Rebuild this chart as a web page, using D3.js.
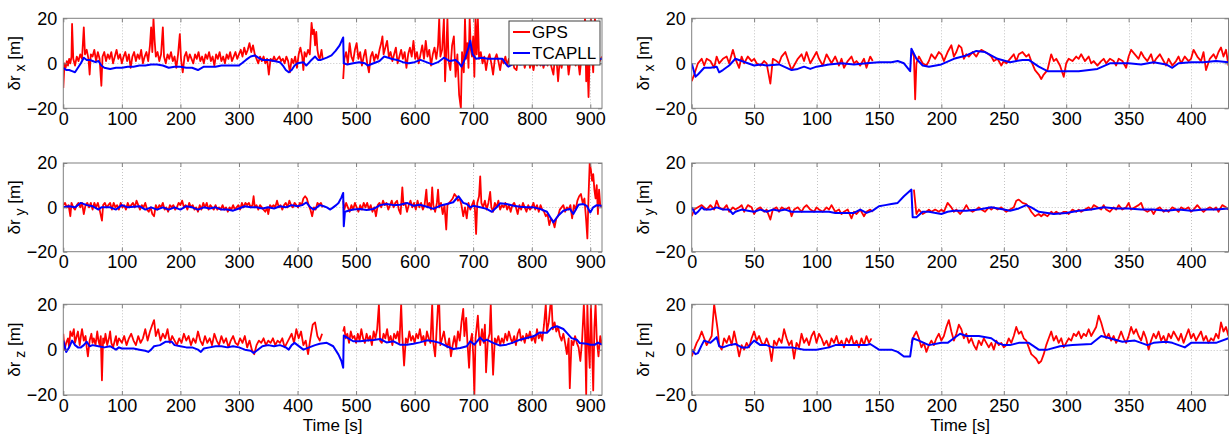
<!DOCTYPE html>
<html><head><meta charset="utf-8">
<script src="https://cdn.jsdelivr.net/npm/d3@7"></script>
<style>
body{margin:0;background:#fff}
svg{display:block}
text{font-family:"Liberation Sans",Arial,Helvetica,sans-serif}
</style>
</head><body>
<svg id="chart" width="1229" height="434"></svg>
<script>
// ---------- data ----------
const xTicksLeft = [0,100,200,300,400,500,600,700,800,900];
const xTicksRight = [0,50,100,150,200,250,300,350,400];
const yTicks = [-20,0,20];
const axisLabels = ["x","y","z"];
const seriesNames = ["GPS","TCAPLL"];

const gpsX_L = [[0,-11],[2,0],[4,-2],[6,1],[8,-1],[10,2],[12,0],[14,3],[15,17.5],[17,2],[20,-1],[23,3],[26,1],[29,4],[32,2],[35,16],[37,4],[40,6],[43,2],[45,-5],[47,4],[50,3],[53,6],[56,1],[59,5],[62,2],[65,-10],[67,3],[70,5],[73,1],[76,4],[79,2],[82,5],[85,0],[88,3],[91,6],[94,2],[97,4],[100,0],[103,3],[106,5],[109,1],[112,4],[115,-2],[118,3],[121,5],[124,1],[127,4],[130,2],[133,6],[136,0],[139,3],[142,5],[145,1],[148,8],[150,16],[152,5],[154,20],[156,10],[158,3],[161,5],[164,1],[167,4],[170,16],[172,3],[175,0],[178,4],[181,2],[184,5],[187,1],[190,3],[193,-2],[196,4],[199,13],[201,2],[204,-4],[207,3],[210,5],[213,1],[216,4],[219,2],[222,0],[225,4],[228,2],[231,5],[234,1],[237,3],[240,0],[243,4],[246,2],[249,5],[252,1],[255,3],[258,-1],[261,4],[264,2],[267,5],[270,1],[273,3],[276,0],[279,4],[282,2],[285,5],[288,1],[291,3],[294,5],[297,2],[300,4],[303,6],[306,3],[309,7],[312,4],[315,6],[318,9],[321,5],[324,8],[327,4],[330,2],[333,0],[336,3],[339,1],[342,3],[345,0],[348,2],[351,-5],[354,2],[357,1],[360,3],[363,1],[366,2],[369,3],[372,1],[375,2],[378,0],[381,3],[384,1],[387,-4],[390,2],[393,0],[396,3],[399,-2],[402,4],[405,7],[408,3],[410,-3],[412,5],[415,3],[418,6],[421,4],[424,18],[426,13],[428,15],[430,8],[432,14],[434,6],[436,3],[438,2],[441,6],[443,2],[444,null],[478,-7],[480,2],[483,5],[486,0],[489,9],[492,3],[495,1],[498,6],[501,9],[504,2],[507,5],[510,-1],[513,3],[516,6],[519,0],[522,-4],[525,3],[528,5],[531,1],[534,4],[537,2],[540,6],[543,9],[545,12],[547,4],[550,7],[553,10],[556,3],[559,5],[562,1],[565,4],[568,7],[571,0],[574,3],[577,6],[580,2],[583,5],[586,-2],[589,4],[592,7],[595,3],[598,10],[601,2],[604,5],[607,0],[610,4],[613,8],[616,2],[619,10],[622,3],[625,6],[628,-1],[631,4],[634,7],[637,2],[640,8],[642,20],[644,3],[647,6],[650,20],[652,-8],[654,5],[656,20],[658,1],[661,-3],[664,8],[667,12],[670,-6],[673,4],[676,-14],[679,-20],[681,5],[684,-4],[686,20],[688,2],[690,9],[692,-2],[694,20],[696,6],[698,3],[700,12],[702,-6],[704,20],[706,4],[708,20],[710,2],[713,5],[716,0],[719,3],[722,-3],[725,2],[728,4],[731,0],[734,-5],[737,2],[740,4],[743,1],[746,-3],[749,2],[752,0],[755,3],[758,-1],[761,2],[764,0],[767,3],[770,-2],[774,-3],[776,1],[779,2],[782,0],[785,3],[788,-2],[791,1],[794,4],[797,-2],[800,1],[803,-3],[806,2],[809,-1],[812,3],[815,-1],[818,1],[820,-2],[824,2],[827,-1],[830,4],[833,-1],[837,-5],[839,1],[842,3],[845,-8],[848,2],[851,-2],[854,3],[857,0],[860,4],[863,-5],[866,1],[869,3],[872,6],[875,-1],[878,4],[882,-5],[885,3],[888,6],[891,20],[893,-8],[895,2],[897,-15],[899,4],[901,20],[903,3],[905,-4],[908,20],[910,2],[913,4],[916,1],[920,3]];
const tcapllX_L = [[0,-2],[5,-3],[10,-3],[15,-3.5],[20,-4],[25,-2],[30,0],[35,2.5],[40,1.5],[45,1.5],[50,1],[55,0.5],[60,1],[65,-1],[70,-2],[80,-2.5],[90,-2],[100,-2],[110,-1.5],[120,-1.5],[130,-1],[140,-1],[150,-0.5],[160,-0.5],[170,-1],[180,-2],[190,-1.5],[200,-1.5],[210,-2],[220,-2],[230,-3],[240,-1.5],[250,-1.5],[260,-1.5],[270,-1],[280,-1],[290,-1],[300,-1],[305,0],[312,1.5],[320,3],[327,3.5],[333,2.5],[340,1.5],[350,1.5],[360,1],[370,0.5],[375,-1],[380,-3],[385,-4],[390,-3],[395,-1],[400,0],[410,0.5],[415,-1],[422,1],[430,3],[435,1.5],[440,1.5],[450,2.5],[458,3.5],[465,5.5],[472,8],[478,11.5],[479,0],[485,-0.5],[495,0],[505,0.5],[515,0],[520,-1],[530,0],[540,1],[548,3],[555,2.5],[560,2],[570,1.5],[580,0.5],[590,0],[600,0.5],[610,1.5],[620,0.5],[630,-0.5],[640,0.5],[650,2.5],[660,1],[670,1.5],[676,0],[680,-1.5],[686,2],[692,7],[695,10],[699,4],[705,2],[715,2.5],[725,2],[740,2],[750,2],[755,0],[760,-1.5],[770,0],[780,-0.5],[800,0],[820,-0.5],[840,0],[860,0.5],[880,0],[900,1],[920,2]];

const gpsY_L = [[0,1],[3,2],[6,0],[9,1],[12,-4],[14,2],[17,0],[20,-1],[23,1],[26,2],[29,0],[32,2],[35,-3],[38,1],[41,2],[44,0],[47,2],[50,-1],[53,2],[56,0],[59,2],[62,-1],[66,-6],[68,1],[71,2],[74,0],[77,1],[80,2],[83,-1],[86,2],[89,0],[92,1],[95,-1],[98,2],[101,0],[104,1],[107,-1],[110,2],[113,0],[116,1],[119,2],[122,0],[125,3],[128,1],[131,-1],[134,1],[137,0],[140,2],[143,-1],[146,-2],[149,0],[152,-3],[155,-4],[158,1],[161,-1],[164,1],[167,0],[170,2],[173,-1],[176,0],[179,-2],[182,1],[185,0],[188,1],[191,-1],[194,0],[197,2],[200,1],[203,3],[206,0],[209,1],[212,-1],[215,2],[218,0],[221,1],[224,-1],[227,0],[230,-2],[233,1],[236,-1],[239,2],[242,0],[245,2],[248,-1],[251,1],[254,0],[257,-1],[260,1],[263,-1],[266,0],[269,-1],[272,1],[275,-1],[278,0],[281,-2],[284,0],[287,-1],[290,1],[293,-1],[296,0],[299,1],[302,-1],[305,2],[308,0],[311,2],[314,1],[317,2],[320,0],[323,1],[325,5],[327,0],[330,1],[333,-1],[336,1],[339,0],[342,-1],[345,-2],[348,0],[350,-3],[353,1],[356,0],[359,1],[362,0],[365,3],[368,0],[371,1],[374,-1],[377,1],[380,2],[383,0],[386,3],[389,1],[392,0],[395,2],[398,1],[401,0],[404,2],[407,1],[410,4],[413,5],[416,4],[419,1],[422,-1],[425,-4],[428,0],[431,-1],[434,2],[437,1],[440,2],[443,0],[444,null],[478,3],[480,-1],[483,2],[486,0],[489,-2],[492,1],[495,-1],[498,2],[501,0],[504,-2],[507,1],[510,-1],[513,2],[516,0],[519,2],[522,-1],[525,1],[528,-2],[531,0],[534,-4],[537,1],[540,2],[543,0],[546,3],[549,1],[552,2],[555,-1],[558,1],[561,3],[564,0],[567,2],[570,3],[573,-1],[576,-3],[579,9],[581,1],[584,2],[587,-2],[590,1],[593,3],[596,0],[599,2],[602,-1],[605,3],[608,0],[611,2],[614,-1],[617,1],[620,8],[622,0],[625,2],[628,-1],[630,9],[632,1],[635,-2],[638,2],[640,8],[642,0],[645,2],[648,-3],[651,1],[654,-10],[656,1],[659,2],[662,3],[665,4],[668,6],[671,5],[674,3],[677,4],[680,1],[683,-4],[686,0],[689,-5],[692,2],[695,-1],[698,1],[701,3],[703,-1],[705,-12],[707,2],[710,5],[712,14],[714,2],[717,0],[720,3],[723,-1],[726,2],[729,7],[731,0],[734,-2],[737,2],[740,0],[743,3],[746,-1],[749,1],[752,0],[755,2],[758,-1],[761,1],[764,-2],[767,1],[770,2],[773,0],[776,-3],[779,1],[782,-1],[785,2],[788,0],[791,-2],[794,1],[797,-1],[800,0],[803,2],[806,-1],[809,1],[812,-2],[815,1],[818,-1],[821,-2],[824,-4],[827,-3],[830,-8],[833,-5],[836,-6],[839,-9],[842,-5],[845,-4],[848,-1],[851,0],[854,1],[857,-2],[860,0],[863,-1],[866,1],[869,-5],[872,1],[875,-1],[878,3],[881,5],[884,6],[887,2],[890,4],[893,-6],[895,-14],[897,5],[899,20],[901,17],[903,12],[905,15],[907,8],[909,4],[911,10],[913,-3],[915,8],[917,1],[920,0]];
const tcapllY_L = [[0,0],[10,0.5],[20,0],[30,2],[40,1],[50,0.5],[60,-1],[65,0],[80,0],[90,-1],[100,1],[110,0],[130,0.5],[140,-1],[150,0],[160,-1],[170,0],[180,-1],[190,0],[200,-1],[210,0.5],[220,0],[230,-1],[240,0],[250,-0.5],[260,0],[270,-1],[280,-1],[290,-1.5],[300,-0.5],[310,0.5],[320,0],[330,0],[340,-0.5],[350,0],[360,-0.5],[370,0.5],[380,0],[390,1],[400,0.5],[408,1],[415,2.2],[422,0],[428,-1],[433,0],[438,1],[445,0.5],[450,0],[456,-1],[461,0],[466,1],[470,2],[475,4.5],[478,6.5],[479,-8.5],[481,-2],[487,-1.5],[495,-1],[507,-0.7],[518,-1.2],[530,-0.7],[541,1],[552,1.5],[564,1],[575,1.2],[587,2],[598,0.7],[609,1.2],[621,0.3],[632,-0.7],[643,0.7],[655,1.5],[666,2.3],[675,5],[683,2],[689,1.5],[695,0],[700,0.7],[712,0],[723,-0.7],[732,-2],[740,0],[746,1.8],[757,1.5],[769,0.7],[780,0.3],[791,0],[803,0],[814,-0.7],[826,-2],[837,-6.8],[845,-3.8],[854,-1.5],[865,-0.7],[871,-3],[880,1.2],[888,1.5],[894,0.7],[900,-2.3],[905,0],[911,1],[920,0.7]];

const gpsZ_L = [[0,7],[2,0],[5,3],[8,5],[10,1],[12,8],[15,6],[18,9],[20,3],[22,5],[25,8],[28,2],[30,6],[32,9],[35,4],[38,6],[40,1],[42,-3],[45,4],[48,7],[50,3],[52,5],[55,2],[58,8],[60,4],[62,2],[64,6],[66,-13.5],[68,5],[70,3],[72,7],[75,2],[78,5],[80,8],[82,3],[85,1],[88,4],[90,6],[92,2],[95,5],[100,3],[104,6],[108,2],[112,5],[116,7],[120,4],[124,2],[128,6],[132,3],[136,5],[140,9],[144,4],[148,8],[152,11],[155,13],[158,6],[162,9],[166,4],[170,7],[174,5],[178,9],[182,3],[186,6],[190,4],[194,2],[198,5],[202,3],[206,7],[210,4],[214,6],[218,2],[222,5],[226,3],[230,8],[234,4],[238,2],[242,6],[246,3],[250,5],[254,2],[258,7],[262,4],[266,2],[270,6],[274,3],[278,5],[282,1],[286,4],[290,6],[294,3],[298,2],[302,5],[306,3],[310,6],[314,1],[318,4],[322,0],[326,-2],[330,2],[334,4],[338,3],[342,5],[346,2],[350,4],[354,3],[358,5],[362,2],[366,4],[370,3],[374,5],[378,1],[382,3],[386,5],[390,7],[394,3],[398,9],[402,5],[406,8],[410,2],[414,4],[418,-2],[422,5],[426,11],[430,12],[434,6],[438,4],[442,7],[443,null],[478,8],[480,10],[482,5],[485,7],[488,3],[491,8],[494,5],[497,6],[500,3],[503,7],[506,4],[509,9],[512,5],[515,3],[518,7],[521,4],[524,6],[527,2],[530,8],[533,5],[536,9],[539,20],[541,4],[544,3],[547,7],[550,5],[553,9],[556,4],[559,6],[562,2],[565,7],[568,5],[571,8],[574,3],[577,20],[579,6],[582,-7],[585,5],[588,3],[591,8],[594,4],[597,6],[600,3],[603,7],[606,5],[609,9],[612,4],[615,6],[618,2],[621,8],[624,5],[627,3],[630,20],[632,3],[635,-3],[637,6],[640,20],[642,20],[644,2],[647,5],[650,8],[653,3],[656,1],[659,5],[662,-3],[665,2],[668,6],[671,1],[674,8],[677,4],[680,12],[683,18],[685,6],[688,14],[690,4],[693,-8],[695,3],[698,7],[700,-2],[702,-20],[704,5],[706,10],[708,15],[710,6],[712,2],[715,9],[718,3],[720,11],[722,-10],[725,4],[728,7],[730,20],[732,3],[734,-11],[737,5],[740,3],[743,6],[746,2],[749,5],[752,3],[755,7],[758,4],[761,8],[764,5],[767,3],[770,6],[773,2],[776,7],[779,9],[782,4],[785,6],[788,3],[791,7],[794,5],[797,8],[800,4],[803,6],[806,3],[809,9],[812,5],[815,7],[818,4],[821,11],[824,20],[826,8],[829,12],[832,20],[834,20],[836,9],[839,12],[842,8],[845,10],[848,6],[851,4],[854,7],[857,3],[860,-2],[863,5],[865,-17],[868,4],[871,2],[874,6],[877,3],[880,1],[883,-5],[886,4],[889,20],[891,8],[893,-20],[895,20],[897,3],[899,-8],[901,20],[903,2],[905,-18],[907,10],[909,20],[911,5],[914,-3],[917,6],[920,2]];
const tcapllZ_L = [[0,4],[5,-1],[10,1],[15,4],[20,2],[25,1],[30,1],[35,2],[40,3.5],[45,1.5],[50,2],[60,1.5],[70,1],[80,1.5],[90,0],[95,1],[100,0.5],[110,0.5],[120,0.5],[130,0],[140,-0.5],[145,-1],[150,0],[155,1.5],[165,2],[175,3.5],[185,3.5],[190,2],[200,1.5],[210,1],[220,1],[230,0],[235,-1],[240,0.5],[250,1],[260,1.5],[270,1.5],[280,1],[290,1.5],[300,1],[310,0],[320,-0.5],[325,-1.5],[330,-0.5],[340,1.5],[350,2],[360,1.5],[370,2],[380,1],[385,0],[390,2],[395,3],[400,2],[410,0],[420,1],[430,2],[438,2.6],[450,3],[461,1.5],[470,-2.2],[475,-5],[478,-8],[479,6.2],[487,5],[495,3.7],[507,3.7],[518,4],[530,4.3],[541,4.7],[552,3.2],[564,3.7],[575,2.2],[587,2.2],[598,2.6],[609,3.2],[621,4.1],[632,3.7],[643,3],[655,1.5],[666,0.3],[678,0.7],[689,1.5],[695,3.7],[702,2.2],[712,5.3],[718,3.7],[723,4.4],[734,3],[746,1.8],[757,2.2],[769,3.2],[780,4.4],[791,5.1],[803,5.9],[814,7.6],[826,7.4],[834,9.6],[843,10.3],[854,9.1],[860,7.4],[868,5.1],[877,4.4],[882,2.9],[894,2.6],[900,2.2],[908,2.2],[913,3.1],[920,2.2]];

const gpsX_R = [[0,-8],[2,-5],[5,0],[8,2],[10,-1],[12,2],[15,1],[18,-2],[20,3],[22,0],[25,2],[28,3],[30,0],[33,6],[35,2],[38,-2],[40,3],[42,0],[45,3],[48,1],[50,2],[52,0],[55,-1],[58,1],[60,0],[63,-9],[65,2],[68,1],[70,0],[72,3],[75,5],[78,0],[80,-3],[82,-1],[85,2],[88,4],[90,1],[92,5],[95,0],[98,3],[100,5],[102,2],[105,-1],[108,4],[110,2],[112,0],[115,3],[118,-1],[120,2],[122,-2],[125,1],[128,3],[130,0],[132,1],[135,-1],[138,2],[140,-2],[143,3],[145,1],[146,null],[176,6],[178,3],[179,-16],[180,0],[182,3],[185,0],[188,-1],[190,1],[192,4],[195,2],[198,5],[200,4],[202,1],[205,5],[208,8],[210,3],[212,5],[214,8],[216,7],[218,2],[220,4],[222,3],[225,5],[228,3],[230,5],[232,6],[235,5],[238,4],[240,3],[242,1],[245,2],[248,-1],[250,1],[252,0],[255,2],[258,4],[260,1],[262,4],[265,5],[268,3],[270,4],[272,1],[275,-3],[278,-5],[280,-7],[282,-5],[285,-3],[288,4],[290,1],[292,2],[295,-1],[298,-6],[300,0],[302,2],[305,1],[308,3],[310,2],[312,4],[315,1],[318,3],[320,0],[322,1],[325,-1],[328,1],[330,2],[332,0],[335,2],[338,1],[340,-1],[342,2],[345,1],[348,-2],[350,3],[352,6],[355,4],[358,2],[360,5],[362,3],[365,1],[368,4],[370,0],[372,2],[375,4],[378,1],[380,-1],[382,2],[385,-1],[388,1],[390,3],[392,0],[395,3],[398,1],[400,2],[402,6],[405,3],[408,1],[410,5],[412,-3],[415,2],[418,4],[420,2],[422,5],[424,7],[426,3],[428,6],[430,-1]];
const tcapllX_R = [[0,0],[3,-6],[5,-5],[10,-2],[15,-2],[20,-1.5],[22,-4],[25,-3],[30,-1],[35,2],[40,1],[50,-1],[55,-0.5],[60,-1],[70,-0.5],[80,-3],[85,-2.5],[90,-1.5],[95,-2.5],[100,-1.5],[110,-0.5],[120,0],[130,-0.5],[140,0],[150,0.5],[160,0.5],[165,1],[170,0],[175,-3.5],[176,6.5],[180,2],[185,-1],[190,-1.5],[200,-0.5],[210,2],[220,3.5],[228,5.5],[235,5],[245,2],[255,0.5],[265,1.5],[270,1.5],[278,-1.5],[285,-3.5],[295,-3.5],[310,-3.5],[325,-2.5],[335,0],[350,0],[360,-0.5],[370,0.5],[380,-0.5],[385,-2],[390,0],[400,0.5],[410,0.5],[420,1],[430,0.5]];

const gpsY_R = [[0,-4],[2,-1],[5,0],[8,1],[10,0],[12,-1],[15,1],[18,-1],[20,3],[22,0],[25,-1],[28,1],[30,-2],[33,0],[35,-1],[38,0],[40,1],[42,-2],[45,1],[48,0],[50,-3],[52,-1],[55,0],[58,-2],[60,-1],[63,-5.5],[65,-1],[68,0],[70,-2],[72,0],[75,-1],[78,0],[80,-4],[82,-1],[85,0],[88,-2],[90,0],[92,1],[95,-1],[98,-2],[100,0],[102,-1],[105,-2],[108,0],[110,-1],[112,1],[115,-2],[118,-1],[120,-3],[122,-2],[125,-1],[128,-5],[130,-2],[132,-3],[135,-1],[138,-4],[140,-2],[143,-1],[145,-2],[146,null],[178,8],[180,-3],[182,-1],[185,-3],[188,-2],[190,-1],[192,-2],[195,-1],[198,-2],[200,-1],[202,-2],[205,2],[208,0],[210,-2],[212,-1],[215,-3],[218,-1],[220,1],[222,-1],[225,-2],[228,-1],[230,0],[232,-1],[235,-2],[238,0],[240,-1],[242,0],[245,-1],[248,0],[250,-1],[252,-2],[255,-1],[258,0],[260,3],[262,3.5],[265,2],[268,1.5],[270,0],[272,-2],[275,-4],[278,-3],[280,-4],[282,-3],[285,-4],[288,-2],[290,-3],[292,-2],[295,-3],[298,-2],[300,-2],[302,-3],[305,-1],[308,-2],[310,-1],[312,-2],[315,-1],[318,0],[320,-1],[322,1],[325,0],[328,-1],[330,1],[332,-1],[335,-2],[338,0],[340,-1],[342,1],[345,-1],[348,0],[350,2],[352,-1],[355,0],[358,1],[360,2],[362,-1],[365,-2],[368,-1],[370,-3],[372,-1],[375,0],[378,-2],[380,-1],[382,-2],[385,0],[388,-1],[390,-2],[392,0],[395,-1],[398,0],[400,-2],[402,-1],[405,1],[408,-1],[410,-2],[412,-1],[415,0],[418,-1],[420,0],[422,-2],[425,1],[428,0],[430,-1]];
const tcapllY_R = [[0,0],[3,-3],[5,-2],[8,0],[10,-1],[15,-1],[20,0],[25,-1],[30,-1],[33,-3],[35,-2],[40,-1],[45,-1.5],[50,-2],[55,-1],[60,-2],[65,-1],[70,-1.5],[75,-1],[80,-2],[85,-2],[90,-2],[100,-2],[110,-2],[115,-2.5],[120,-2.5],[130,-2.5],[135,-1],[140,-2.5],[145,-1.5],[150,0.5],[155,1],[160,1.5],[165,2],[170,5],[176,8],[177,-4.5],[180,-4.5],[185,-2],[190,-2],[200,-3],[205,-2],[210,-1.5],[220,-1.5],[230,-1],[240,0],[250,-1],[255,-1.5],[262,-0.5],[268,1],[272,0],[278,-2],[285,-2.5],[290,-3],[300,-2.5],[310,-1.5],[320,-1],[330,0],[340,-0.5],[350,-0.5],[360,-1],[370,-1],[380,-1.5],[390,-1],[400,-1.5],[410,-1],[420,-1],[430,-0.5]];

const gpsZ_R = [[0,-3],[2,0],[4,3],[6,5],[8,8],[10,5],[12,2],[14,4],[16,6],[18,20],[20,12],[21,8],[22,2],[24,0],[26,5],[28,3],[30,6],[32,2],[34,8],[36,3],[38,-3],[40,2],[42,0],[44,3],[46,1],[48,5],[50,8],[52,4],[54,6],[56,3],[58,2],[60,5],[62,2],[64,-5],[66,4],[68,2],[70,5],[72,3],[74,9],[76,5],[78,2],[80,4],[82,-4],[84,3],[86,1],[88,7],[90,3],[92,5],[94,2],[96,6],[98,8],[100,3],[102,7],[104,5],[106,2],[108,4],[110,1],[112,5],[114,3],[116,6],[118,2],[120,4],[122,1],[124,5],[126,3],[128,6],[130,2],[132,4],[134,1],[136,5],[138,2],[140,6],[142,3],[144,5],[145,null],[176,3],[178,6],[180,8],[182,5],[184,1],[186,3],[188,-1],[190,2],[192,4],[194,2],[196,5],[198,7],[200,4],[202,6],[204,10],[206,13],[208,8],[210,4],[212,7],[214,11],[216,9],[218,5],[220,7],[222,3],[224,5],[226,2],[228,0],[230,4],[232,2],[234,5],[236,3],[238,1],[240,3],[242,0],[244,4],[246,2],[248,3],[250,1],[252,2],[254,5],[256,3],[258,6],[260,10],[262,7],[264,8],[266,5],[268,4],[270,1],[272,-2],[274,-3],[276,-4],[278,-6],[280,-5],[282,-2],[284,2],[286,5],[288,8],[290,4],[292,6],[294,3],[296,5],[298,1],[300,3],[302,5],[304,4],[306,7],[308,6],[310,8],[312,5],[314,7],[316,6],[318,9],[320,6],[322,8],[324,10],[326,15],[328,12],[330,8],[332,5],[334,7],[336,4],[338,6],[340,3],[342,5],[344,8],[346,5],[348,3],[350,6],[352,10],[354,7],[356,9],[358,6],[360,4],[362,8],[364,5],[366,0],[368,4],[370,7],[372,5],[374,8],[376,4],[378,6],[380,3],[382,7],[384,5],[386,8],[388,6],[390,4],[392,7],[394,3],[396,6],[398,9],[400,5],[402,7],[404,4],[406,6],[408,8],[410,4],[412,6],[414,3],[416,5],[418,4],[420,7],[422,5],[424,12],[426,8],[428,10],[430,6]];
const tcapllZ_R = [[0,0],[3,-2],[5,-1.5],[8,2],[10,4],[15,3],[18,4.5],[20,5.5],[22,1.5],[25,1],[30,2],[35,2.5],[40,1],[45,1],[50,4],[55,2],[60,2],[65,1],[70,1],[80,1],[90,0],[100,0],[110,1],[115,2],[120,2],[130,2],[140,2],[143,2.5],[150,0],[160,0],[165,-1],[170,-3],[175,-3],[177,5],[182,4],[190,2],[200,3],[205,3],[210,5],[215,7],[220,6],[230,6],[240,5],[245,3],[250,2],[255,2],[262,3],[270,3],[278,0],[285,0],[295,1.5],[305,2],[320,2.5],[328,6],[335,5],[345,3.5],[355,4],[365,2],[370,3],[380,3.5],[385,3],[395,1],[400,3],[410,3],[420,3],[430,5]];

// ---------- layout ----------
const colX = [{x0:63.3, x1:602, xmax:920, ticks:xTicksLeft, ylabX:20},
              {x0:691.7, x1:1228.5, xmax:430, ticks:xTicksRight, ylabX:649}];
const rowY = [{y0:18.3, y1:108.3}, {y0:163, y1:251.7}, {y0:304.3, y1:395}];

const panels = [
  {row:0,col:0,gps:gpsX_L,tc:tcapllX_L,lab:axisLabels[0],legend:true},
  {row:1,col:0,gps:gpsY_L,tc:tcapllY_L,lab:axisLabels[1]},
  {row:2,col:0,gps:gpsZ_L,tc:tcapllZ_L,lab:axisLabels[2],xlabel:true},
  {row:0,col:1,gps:gpsX_R,tc:tcapllX_R,lab:axisLabels[0]},
  {row:1,col:1,gps:gpsY_R,tc:tcapllY_R,lab:axisLabels[1]},
  {row:2,col:1,gps:gpsZ_R,tc:tcapllZ_R,lab:axisLabels[2],xlabel:true}
];

const svg = d3.select("#chart");
const FS = 17, TFS = 18;
const frameColor = "#808080";

panels.forEach((p,i)=>{
  const c = colX[p.col], r = rowY[p.row];
  const x = d3.scaleLinear().domain([0,c.xmax]).range([c.x0,c.x1]);
  const y = d3.scaleLinear().domain([-20,20]).range([r.y1,r.y0]);
  const g = svg.append("g");
  const cid = "clip"+i;
  svg.append("defs").append("clipPath").attr("id",cid).append("rect")
    .attr("x",c.x0).attr("y",r.y0).attr("width",c.x1-c.x0).attr("height",r.y1-r.y0);

  g.append("rect").attr("x",c.x0).attr("y",r.y0).attr("width",c.x1-c.x0).attr("height",r.y1-r.y0).attr("fill","#fff");

  // grid
  const grid = g.append("g").attr("stroke","#c4c4c4").attr("stroke-width",1).attr("stroke-dasharray","1,2");
  c.ticks.filter(t=>t>0).forEach(t=>{
    grid.append("line").attr("x1",Math.round(x(t))+0.5).attr("x2",Math.round(x(t))+0.5).attr("y1",r.y0).attr("y2",r.y1);
  });
  grid.append("line").attr("x1",c.x0).attr("x2",c.x1).attr("y1",Math.round(y(0))+0.5).attr("y2",Math.round(y(0))+0.5);

  // lines
  const line = d3.line().defined(d=>d[1]!==null).x(d=>x(d[0])).y(d=>y(d[1]));
  const lg = g.append("g").attr("clip-path",`url(#${cid})`);
  lg.append("path").datum(p.gps).attr("d",line).attr("fill","none").attr("stroke","#ff0000").attr("stroke-width",1.8).attr("stroke-linejoin","round");
  lg.append("path").datum(p.tc).attr("d",line).attr("fill","none").attr("stroke","#0000ff").attr("stroke-width",2).attr("stroke-linejoin","round");

  // axes
  const xa = d3.axisBottom(x).tickValues(c.ticks).tickSize(-4).tickPadding(4).tickFormat(d3.format("d"));
  const gx = g.append("g").attr("transform",`translate(0,${r.y1})`).call(xa);
  gx.select(".domain").remove();
  gx.selectAll(".tick line").attr("stroke",frameColor);
  gx.selectAll("text").attr("font-size",TFS).attr("fill","#000").attr("font-family",'"Liberation Sans",Arial,sans-serif');
  const xt = d3.axisTop(x).tickValues(c.ticks).tickSize(-4).tickFormat("");
  const gxt = g.append("g").attr("transform",`translate(0,${r.y0})`).call(xt);
  gxt.select(".domain").remove();
  gxt.selectAll(".tick line").attr("stroke",frameColor);

  const ya = d3.axisLeft(y).tickValues(yTicks).tickSize(-4).tickPadding(6).tickFormat(d3.format("d"));
  const gy = g.append("g").attr("transform",`translate(${c.x0},0)`).call(ya);
  gy.select(".domain").remove();
  gy.selectAll(".tick line").attr("stroke",frameColor);
  gy.selectAll("text").attr("font-size",TFS).attr("fill","#000").attr("font-family",'"Liberation Sans",Arial,sans-serif');
  const yr = d3.axisRight(y).tickValues(yTicks).tickSize(-4).tickFormat("");
  const gyr = g.append("g").attr("transform",`translate(${c.x1},0)`).call(yr);
  gyr.select(".domain").remove();
  gyr.selectAll(".tick line").attr("stroke",frameColor);

  g.append("rect").attr("x",c.x0).attr("y",r.y0).attr("width",c.x1-c.x0).attr("height",r.y1-r.y0)
    .attr("fill","none").attr("stroke",frameColor).attr("stroke-width",1);

  // y label
  const cy = (r.y0+r.y1)/2;
  const yl = g.append("text").attr("transform",`translate(${c.ylabX},${cy}) rotate(-90)`)
    .attr("text-anchor","middle").attr("font-size",FS).attr("fill","#000");
  yl.append("tspan").text("\u03B4r");
  yl.append("tspan").attr("dy",5).attr("font-size",14).text(" "+p.lab);
  yl.append("tspan").attr("dy",-5).text(" [m]");

  if(p.xlabel){
    g.append("text").attr("x",(c.x0+c.x1)/2).attr("y",431).attr("text-anchor","middle")
      .attr("font-size",FS).attr("fill","#000").text("Time [s]");
  }

  if(p.legend){
    const lx0 = 509, ly0 = 21, lw = 91, lh = 44;
    const lgd = g.append("g");
    lgd.append("rect").attr("x",lx0).attr("y",ly0).attr("width",lw).attr("height",lh)
      .attr("fill","#fff").attr("stroke","#404040").attr("stroke-width",1);
    const colors = ["#ff0000","#0000ff"];
    seriesNames.forEach((n,k)=>{
      const yy = ly0 + 11 + k*21;
      lgd.append("line").attr("x1",lx0+4).attr("x2",lx0+21).attr("y1",yy).attr("y2",yy)
        .attr("stroke",colors[k]).attr("stroke-width",2);
      lgd.append("text").attr("x",lx0+23).attr("y",yy+6).attr("font-size",FS).attr("fill","#000").text(n);
    });
  }
});
</script>
</body></html>
